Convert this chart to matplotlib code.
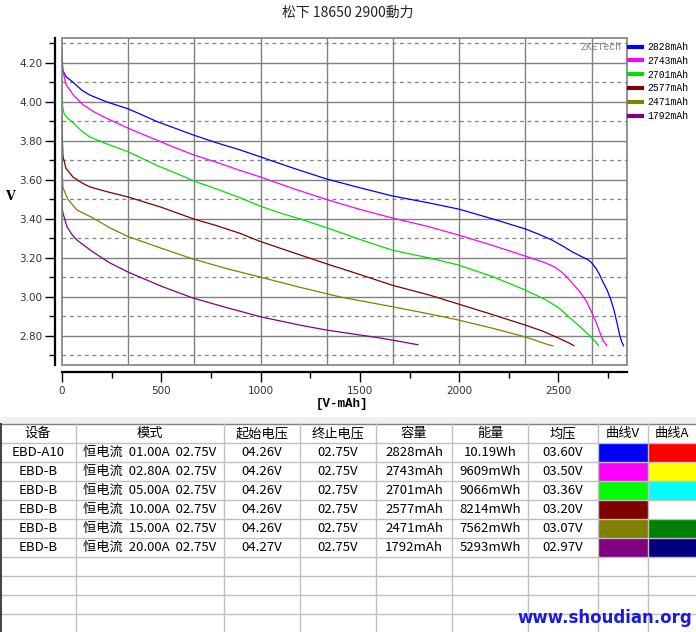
import matplotlib
matplotlib.use("Agg")
import matplotlib.pyplot as plt
from matplotlib.patches import Rectangle
from matplotlib.ticker import MultipleLocator, FixedLocator

plt.rcParams['font.family'] = ['Noto Sans CJK SC', 'DejaVu Sans']

# ---------------- data ----------------
title = '松下 18650 2900動力'
series_labels = ['2828mAh', '2743mAh', '2701mAh', '2577mAh', '2471mAh', '1792mAh']
series_colors = ['#0000ff', '#ff00ff', '#00e000', '#800000', '#808000', '#800080']

blue_mah = [0, 2, 5, 20, 57, 100, 141, 226, 332, 400, 477, 570, 663, 780, 894, 1000, 1166, 1332,
            1500, 1663, 1849, 2000, 2186, 2332, 2400, 2467, 2520, 2568, 2620, 2650, 2668, 2690,
            2705, 2719, 2745, 2764, 2780, 2795, 2808, 2818, 2828]
blue_v = [4.27, 4.20, 4.16, 4.13, 4.10, 4.06, 4.035, 4.00, 3.965, 3.935, 3.90, 3.865, 3.83, 3.79,
          3.755, 3.718, 3.66, 3.605, 3.56, 3.518, 3.482, 3.45, 3.395, 3.349, 3.322, 3.292, 3.262,
          3.232, 3.205, 3.19, 3.174, 3.145, 3.118, 3.087, 3.035, 2.985, 2.93, 2.865, 2.805, 2.77,
          2.75]

mag_mah = [0, 5, 20, 57, 107, 160, 225, 334, 476, 570, 665, 780, 894, 1000, 1166, 1332, 1497,
           1663, 1849, 1995, 2166, 2332, 2420, 2460, 2487, 2515, 2540, 2568, 2605, 2638, 2668,
           2690, 2704, 2724, 2743]
mag_v = [4.17, 4.155, 4.09, 4.036, 3.985, 3.95, 3.916, 3.865, 3.805, 3.765, 3.728, 3.69, 3.65,
         3.615, 3.555, 3.50, 3.45, 3.405, 3.36, 3.318, 3.265, 3.21, 3.18, 3.164, 3.149, 3.128,
         3.104, 3.072, 3.03, 2.982, 2.92, 2.868, 2.83, 2.777, 2.75]

grn_mah = [0, 3, 10, 30, 55, 100, 141, 226, 332, 477, 608, 663, 780, 894, 1000, 1100, 1200, 1332,
           1500, 1663, 1849, 1995, 2166, 2332, 2437, 2500, 2553, 2600, 2638, 2668, 2690, 2701]
grn_v = [4.07, 3.98, 3.94, 3.915, 3.895, 3.85, 3.82, 3.785, 3.745, 3.675, 3.62, 3.595, 3.553,
         3.51, 3.465, 3.43, 3.40, 3.355, 3.295, 3.24, 3.20, 3.164, 3.105, 3.036, 2.985, 2.945,
         2.897, 2.855, 2.82, 2.79, 2.765, 2.75]

red_mah = [0, 2, 5, 20, 55, 100, 141, 226, 332, 500, 663, 780, 894, 1000, 1200, 1332, 1500, 1663,
           1849, 1995, 2166, 2332, 2420, 2487, 2553, 2577]
red_v = [3.93, 3.80, 3.72, 3.66, 3.615, 3.585, 3.564, 3.54, 3.513, 3.46, 3.40, 3.365, 3.327,
         3.284, 3.215, 3.17, 3.115, 3.06, 3.01, 2.964, 2.91, 2.856, 2.825, 2.795, 2.764, 2.75]

olv_mah = [0, 2, 5, 30, 75, 156, 240, 332, 500, 658, 830, 1005, 1196, 1400, 1663, 1849, 1995,
           2166, 2332, 2400, 2452, 2471]
olv_v = [3.75, 3.62, 3.56, 3.50, 3.446, 3.405, 3.355, 3.31, 3.25, 3.195, 3.145, 3.10, 3.05, 3.00,
         2.95, 2.913, 2.882, 2.84, 2.795, 2.772, 2.754, 2.75]

pur_mah = [0, 2, 5, 25, 50, 75, 156, 240, 332, 500, 658, 830, 1005, 1196, 1333, 1466, 1600, 1700,
           1792]
pur_v = [3.58, 3.45, 3.43, 3.36, 3.32, 3.292, 3.23, 3.175, 3.128, 3.055, 2.995, 2.945, 2.897,
         2.856, 2.83, 2.81, 2.79, 2.772, 2.755]

series_x = [blue_mah, mag_mah, grn_mah, red_mah, olv_mah, pur_mah]
series_y = [blue_v, mag_v, grn_v, red_v, olv_v, pur_v]

x_ticks = [0, 500, 1000, 1500, 2000, 2500]
x_grid = [333.33, 666.67, 1000, 1333.33, 1666.67, 2000, 2333.33, 2666.67]
y_major = [2.8, 3.0, 3.2, 3.4, 3.6, 3.8, 4.0, 4.2]
y_minor = [2.7, 2.9, 3.1, 3.3, 3.5, 3.7, 3.9, 4.1, 4.3]

# table
headers = ['设备', '模式', '起始电压', '终止电压', '容量', '能量', '均压', '曲线V', '曲线A']
devices = ['EBD-A10', 'EBD-B', 'EBD-B', 'EBD-B', 'EBD-B', 'EBD-B']
modes = ['恒电流  01.00A  02.75V', '恒电流  02.80A  02.75V', '恒电流  05.00A  02.75V',
         '恒电流  10.00A  02.75V', '恒电流  15.00A  02.75V', '恒电流  20.00A  02.75V']
start_v = ['04.26V', '04.26V', '04.26V', '04.26V', '04.26V', '04.27V']
end_v = ['02.75V', '02.75V', '02.75V', '02.75V', '02.75V', '02.75V']
capacity = ['2828mAh', '2743mAh', '2701mAh', '2577mAh', '2471mAh', '1792mAh']
energy = ['10.19Wh', '9609mWh', '9066mWh', '8214mWh', '7562mWh', '5293mWh']
avg_v = ['03.60V', '03.50V', '03.36V', '03.20V', '03.07V', '02.97V']
curve_v_colors = ['#0000ff', '#ff00ff', '#00ff00', '#800000', '#808000', '#800080']
curve_a_colors = ['#ff0000', '#ffff00', '#00ffff', '#ffffff', '#008000', '#000080']

# ---------------- figure ----------------
W, H = 696, 632
fig = plt.figure(figsize=(W / 100, H / 100), dpi=100)
fig.patch.set_facecolor('white')

L, R, T, B = 62, 627, 38, 365
ax = fig.add_axes([L / W, 1 - B / H, (R - L) / W, (B - T) / H])
ax.set_xlim(0, 2845)
ax.set_ylim(2.651, 4.328)

grid_c = '#808080'
ax.yaxis.set_major_locator(FixedLocator(y_major))
ax.yaxis.set_minor_locator(FixedLocator(y_minor))
ax.xaxis.set_major_locator(FixedLocator(x_ticks))
ax.xaxis.set_minor_locator(MultipleLocator(250))
for v in y_major:
    ax.axhline(v, color=grid_c, lw=1.0, zorder=1)
for v in y_minor:
    ax.axhline(v, color=grid_c, lw=0.9, ls=(0, (3, 3)), zorder=1)
for gx in x_grid:
    ax.axvline(gx, color=grid_c, lw=1.0, zorder=1)

lines = []
for xs, ys, c, lab in zip(series_x, series_y, series_colors, series_labels):
    ln, = ax.plot(xs, ys, color=c, lw=0.9, label=lab, zorder=3)
    lines.append(ln)

for s in ['top', 'right']:
    ax.spines[s].set_visible(False)
for s in ['left', 'bottom']:
    ax.spines[s].set_position(('outward', 5))
    ax.spines[s].set_color('black')
    ax.spines[s].set_linewidth(1.6)
ax.add_patch(Rectangle((0, 0), 1, 1, transform=ax.transAxes, fill=False,
                       edgecolor=grid_c, lw=1.2, zorder=4, clip_on=False))

ax.tick_params(axis='both', which='major', direction='out', length=7, width=1, color='black',
               labelsize=7.5, labelcolor='#333333')
ax.tick_params(axis='both', which='minor', direction='out', length=4, width=1, color='black')
ax.tick_params(axis='y', which='major', pad=2)
ax.tick_params(axis='x', which='major', pad=3)
ax.set_yticklabels(['%.2f' % v for v in y_major], family='DejaVu Sans')
ax.set_xticklabels([str(v) for v in x_ticks], family='DejaVu Sans')

fig.text(348 / W, 1 - 13 / H, title, ha='center', va='center', fontsize=10, color='#222222')
fig.text(10 / W, 1 - 197 / H, 'V', ha='center', va='center', fontsize=9, fontweight='bold',
         family='DejaVu Serif')
fig.text(342 / W, 1 - 404 / H, '[V-mAh]', ha='center', va='center', fontsize=9,
         fontweight='bold', family='Liberation Mono')
ax.text(0.99, 0.988, 'ZKETech', transform=ax.transAxes, ha='right', va='top', fontsize=7,
        family='Liberation Mono', color='#808080', zorder=5)

leg = fig.legend(handles=lines, labels=series_labels, loc='upper left',
                 bbox_to_anchor=(627 / W, 1 - 40 / H), frameon=False,
                 prop={'family': 'Liberation Mono', 'size': 7}, handlelength=1.35,
                 handletextpad=0.55, labelspacing=0.39, borderaxespad=0, borderpad=0.2)
for h in leg.legend_handles:
    h.set_linewidth(3)

# ---------------- table ----------------
tax = fig.add_axes([0, 0, 1, 1])
tax.set_xlim(0, W)
tax.set_ylim(H, 0)
tax.axis('off')

tax.add_patch(Rectangle((0, 417), W, 7, color='#f0f0f0', lw=0))
col_edges = [0, 76, 224, 300, 376, 452, 528, 598, 648, 696]
row_top = 424
row_h = 19
n_rows = 11
line_c = '#c0c0c0'
for i in range(n_rows + 1):
    y = row_top + i * row_h
    tax.plot([0, W], [y, y], color=line_c if i > 0 else '#808080', lw=1)
for xe in col_edges[1:-1]:
    tax.plot([xe, xe], [row_top, H], color=line_c, lw=1)
tax.plot([0.7, 0.7], [row_top, H], color='#404040', lw=1.4)

def cell_text(ci, ri, s):
    xc = (col_edges[ci] + col_edges[ci + 1]) / 2
    yc = row_top + ri * row_h + row_h / 2
    tax.text(xc, yc, s, ha='center', va='center', fontsize=9.5, color='black')

for ci, h in enumerate(headers):
    cell_text(ci, 0, h)
cols = [devices, modes, start_v, end_v, capacity, energy, avg_v]
for ri in range(len(devices)):
    for ci, col in enumerate(cols):
        cell_text(ci, ri + 1, col[ri])
    for ci, cc in ((7, curve_v_colors[ri]), (8, curve_a_colors[ri])):
        x0 = col_edges[ci] + 0.5
        y0 = row_top + (ri + 1) * row_h + 0.5
        tax.add_patch(Rectangle((x0, y0), col_edges[ci + 1] - col_edges[ci] - 1, row_h - 1,
                                facecolor=cc, edgecolor='none'))

tax.text(692, 618, 'www.shoudian.org', ha='right', va='center', fontsize=12,
         fontweight='bold', family='DejaVu Sans', color='#1a1ae6')

fig.savefig('out.png', dpi=100)
